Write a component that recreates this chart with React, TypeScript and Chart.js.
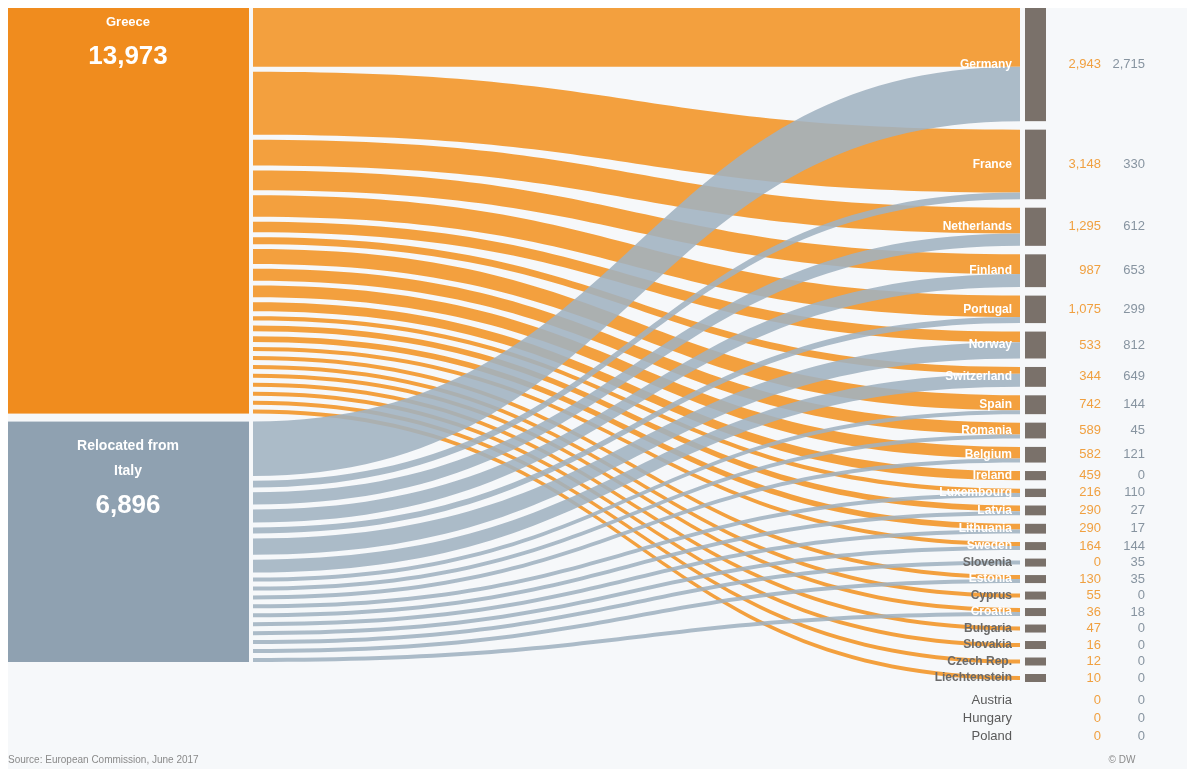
import React, { useEffect, useRef } from "react";
import { Chart, registerables } from "chart.js";

Chart.register(...registerables);

// ---------- data ----------
const countries = [
  "Germany", "France", "Netherlands", "Finland", "Portugal", "Norway", "Switzerland", "Spain",
  "Romania", "Belgium", "Ireland", "Luxembourg", "Latvia", "Lithuania", "Sweden", "Slovenia",
  "Estonia", "Cyprus", "Croatia", "Bulgaria", "Slovakia", "Czech Rep.", "Liechtenstein",
  "Austria", "Hungary", "Poland",
];
const fromGreece = [
  2943, 3148, 1295, 987, 1075, 533, 344, 742, 589, 582, 459, 216, 290, 290, 164, 0,
  130, 55, 36, 47, 16, 12, 10, 0, 0, 0,
];
const fromItaly = [
  2715, 330, 612, 653, 299, 812, 649, 144, 45, 121, 0, 110, 27, 17, 144, 35,
  35, 0, 18, 0, 0, 0, 0, 0, 0, 0,
];
const sourceTotals = [13973, 6896];
const sourceTitles = [["Greece"], ["Relocated from", "Italy"]];
const footnote = "Source: European Commission, June 2017";
const credit = "© DW";

// ---------- style ----------
const BG = "#f6f8fa";
const ORANGE_NODE = "#f08c1e";
const ORANGE_FLOW = "rgba(242,155,52,0.95)";
const GRAY_NODE = "#8fa1b1";
const GRAY_FLOW = "rgba(160,178,192,0.88)";
const RIGHT_BAR = "#7a716a";
const ORANGE_TEXT = "#f0a040";
const GRAY_TEXT = "#8794a0";
const FONT = "'Liberation Sans', Arial, sans-serif";

const W = 1187;
const H = 761;
const Y_MAX = 38050;

const sankeyPlugin = {
  id: "sankeyFlows",
  beforeDraw(chart: any) {
    const { ctx } = chart;
    ctx.save();
    ctx.fillStyle = BG;
    ctx.fillRect(0, 0, chart.width, chart.height);
    ctx.restore();
  },
  afterDatasetsDraw(chart: any) {
    const { ctx } = chart;
    const xs = chart.scales.x;
    const ys = chart.scales.y;
    const unitsPerPx = (ys.max - ys.min) / Math.abs(ys.bottom - ys.top);
    const P = (px: number) => px * unitsPerPx;
    const Y = (u: number) => ys.getPixelForValue(u);
    const X = (v: number) => xs.getPixelForValue(v);

    const series = [fromGreece, fromItaly];
    const flowW = (v: number) => (v > 0 ? Math.max(v, P(4)) : 0);

    // left column: flows stacked with equal gaps so that the column fills its height
    const leftSpan = P(654);
    const nodeGap = P(8);
    let flowSum = 0;
    let gapCount = 0;
    series.forEach((arr) => {
      const nz = arr.filter((v) => v > 0);
      flowSum += nz.reduce((a, v) => a + flowW(v), 0);
      gapCount += nz.length - 1;
    });
    const gapL = (leftSpan - nodeGap * (series.length - 1) - flowSum) / gapCount;

    const leftStarts: number[][] = [];
    const leftNodes: { top: number; h: number }[] = [];
    let cursor = 0;
    series.forEach((arr, s) => {
      const starts: number[] = [];
      let pos = cursor;
      let count = 0;
      arr.forEach((v, i) => {
        const w = flowW(v);
        if (w > 0) {
          if (count > 0) pos += gapL;
          starts[i] = pos;
          pos += w;
          count++;
        }
      });
      leftStarts[s] = starts;
      leftNodes.push({ top: cursor, h: pos - cursor });
      cursor = pos + nodeGap;
    });

    // right nodes
    const sums = countries.map((_, i) => flowW(fromGreece[i]) + flowW(fromItaly[i]));
    const heights = sums.map((s) => (s > 0 ? Math.max(s, P(8)) : 0));
    const nonZero = countries.map((_, i) => i).filter((i) => sums[i] > 0);
    const zeroIdx = countries.map((_, i) => i).filter((i) => sums[i] === 0);
    const rightBottom = P(674);
    const totalH = nonZero.reduce((a, i) => a + heights[i], 0);
    const gapR = (rightBottom - totalH) / (nonZero.length - 1);
    const rightTop: number[] = [];
    let rp = 0;
    nonZero.forEach((i) => {
      rightTop[i] = rp;
      rp += heights[i] + gapR;
    });
    const rightStarts: number[][] = [[], []];
    nonZero.forEach((i) => {
      let p = rightTop[i] + (heights[i] - sums[i]) / 2;
      series.forEach((arr, s) => {
        const w = flowW(arr[i]);
        if (w > 0) {
          rightStarts[s][i] = p;
          p += w;
        }
      });
    });

    const x0 = X(245);
    const x1 = X(1012);
    const c0 = x0 + (x1 - x0) * 0.5;
    const c1 = x1 - (x1 - x0) * 0.5;

    ctx.save();
    // flows
    series.forEach((arr, s) => {
      ctx.fillStyle = s === 0 ? ORANGE_FLOW : GRAY_FLOW;
      arr.forEach((v, i) => {
        const w = flowW(v);
        if (w <= 0) return;
        const a = leftStarts[s][i];
        const b = rightStarts[s][i];
        const y0t = Y(a), y0b = Y(a + w), y1t = Y(b), y1b = Y(b + w);
        ctx.beginPath();
        ctx.moveTo(x0, y0t);
        ctx.bezierCurveTo(c0, y0t, c1, y1t, x1, y1t);
        ctx.lineTo(x1, y1b);
        ctx.bezierCurveTo(c1, y1b, c0, y0b, x0, y0b);
        ctx.closePath();
        ctx.fill();
      });
    });

    // left node boxes
    leftNodes.forEach((n, s) => {
      const top = Y(n.top);
      const bot = Y(n.top + n.h);
      ctx.fillStyle = s === 0 ? ORANGE_NODE : GRAY_NODE;
      ctx.fillRect(X(0), top, X(241) - X(0), bot - top);
      ctx.fillStyle = "#ffffff";
      ctx.textAlign = "center";
      ctx.textBaseline = "middle";
      const cx = X(120);
      const titles = sourceTitles[s];
      titles.forEach((t, j) => {
        ctx.font = `bold ${s === 0 ? 13 : 14}px ${FONT}`;
        ctx.fillText(t, cx, top + (s === 0 ? 14 : 25) + j * 25);
      });
      ctx.font = `bold 26px ${FONT}`;
      ctx.fillText(sourceTotals[s].toLocaleString("en-US"), cx, top + (s === 0 ? 49 : 84));
    });

    // right bars + labels
    nonZero.forEach((i) => {
      const top = Y(rightTop[i]);
      const bot = Y(rightTop[i] + heights[i]);
      ctx.fillStyle = RIGHT_BAR;
      ctx.fillRect(X(1017), top, X(1038) - X(1017), bot - top);
      const cy = (top + bot) / 2;
      const contentPx = Math.abs(Y(sums[i]) - Y(0));
      ctx.textBaseline = "middle";
      ctx.textAlign = "right";
      ctx.font = `bold 12px ${FONT}`;
      ctx.fillStyle = contentPx < 6 ? "#6a6a6a" : "#ffffff";
      ctx.fillText(countries[i], X(1004), cy);
      ctx.font = `13px ${FONT}`;
      ctx.fillStyle = ORANGE_TEXT;
      ctx.fillText(fromGreece[i].toLocaleString("en-US"), X(1093), cy);
      ctx.fillStyle = GRAY_TEXT;
      ctx.fillText(fromItaly[i].toLocaleString("en-US"), X(1137), cy);
    });
    const lastBottom = Y(rp - gapR);
    zeroIdx.forEach((i, j) => {
      const cy = lastBottom + 18 + j * 18;
      ctx.textBaseline = "middle";
      ctx.textAlign = "right";
      ctx.font = `13px ${FONT}`;
      ctx.fillStyle = "#5a5a5a";
      ctx.fillText(countries[i], X(1004), cy);
      ctx.fillStyle = ORANGE_TEXT;
      ctx.fillText(fromGreece[i].toLocaleString("en-US"), X(1093), cy);
      ctx.fillStyle = GRAY_TEXT;
      ctx.fillText(fromItaly[i].toLocaleString("en-US"), X(1137), cy);
    });

    // footer
    ctx.font = `10px ${FONT}`;
    ctx.fillStyle = "#8a8a8a";
    ctx.textAlign = "left";
    ctx.textBaseline = "middle";
    ctx.fillText(footnote, X(0), 752);
    ctx.textAlign = "center";
    ctx.fillText(credit, X(1114), 752);
    ctx.restore();
  },
};

export default function App() {
  const ref = useRef<HTMLCanvasElement | null>(null);
  useEffect(() => {
    document.body.style.overflow = "hidden";
    const canvas = ref.current;
    if (!canvas) return;
    const chart = new Chart(canvas, {
      type: "scatter",
      data: { datasets: [{ data: [], pointRadius: 0 }] },
      options: {
        animation: false,
        responsive: false,
        devicePixelRatio: 1,
        layout: { padding: 0 },
        scales: {
          x: { type: "linear", min: 0, max: W, display: false },
          y: { type: "linear", min: 0, max: Y_MAX, reverse: true, display: false },
        },
        plugins: { legend: { display: false }, tooltip: { enabled: false } },
      },
      plugins: [sankeyPlugin],
    } as any);
    return () => chart.destroy();
  }, []);
  return (
    <div style={{ width: W, height: H }}>
      <canvas ref={ref} width={W} height={H} style={{ display: "block", width: W, height: H }} />
    </div>
  );
}
